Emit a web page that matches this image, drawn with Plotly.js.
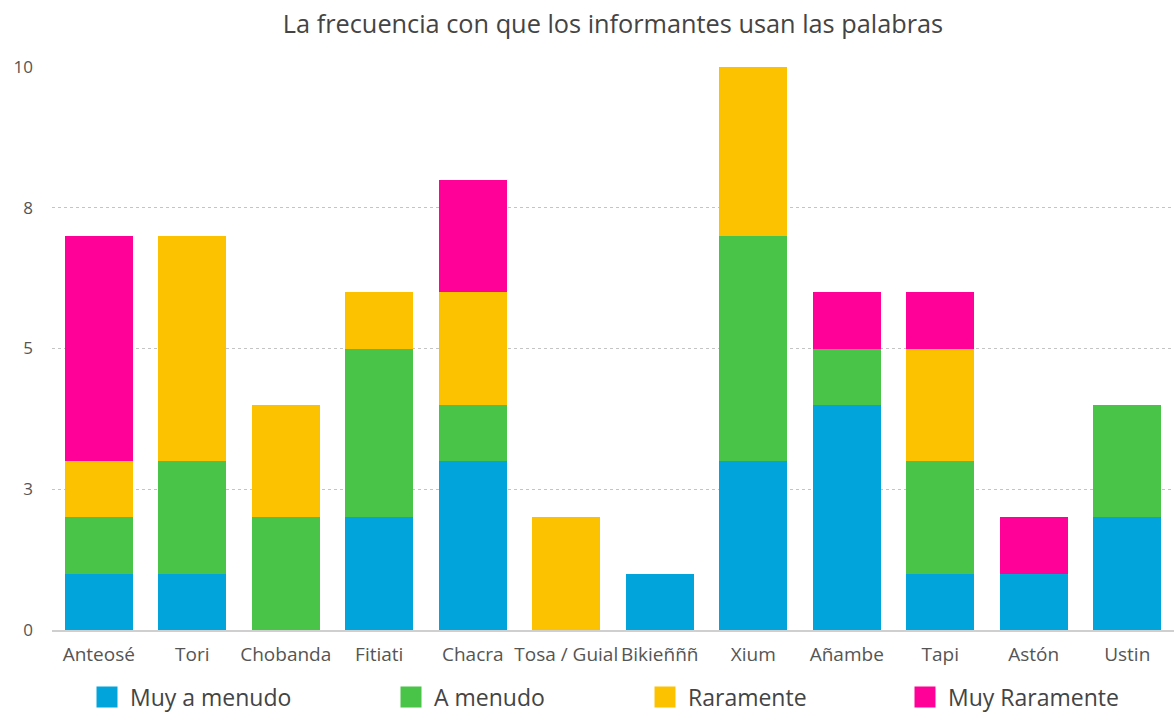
<!DOCTYPE html>
<html><head><meta charset="utf-8">
<script src="https://cdn.plot.ly/plotly-3.0.1.min.js"></script>
<style>html,body{margin:0;padding:0;background:#fff}#chart{width:1174px;height:715px}</style>
</head><body><div id="chart"></div>
<script>
const categories = ["Anteosé","Tori","Chobanda","Fitiati","Chacra","Tosa / Guial","Bikieñññ","Xium","Añambe","Tapi","Astón","Ustin"];
const muyAMenudo   = [1,1,0,2,3,0,1,3,4,1,1,2];
const aMenudo      = [1,2,2,3,1,0,0,4,1,2,0,2];
const raramente    = [1,4,2,1,2,2,0,3,0,2,0,0];
const muyRaramente = [4,0,0,0,2,0,0,0,1,1,1,0];
const seriesNames  = ["Muy a menudo","A menudo","Raramente","Muy Raramente"];
const seriesColors = ["#02A4DC","#49C449","#FCC200","#FF0098"];
const yTickVals = [0,2.5,5,7.5,10];
const yTickText = ["0","3","5","8","10"];

const values = [muyAMenudo, aMenudo, raramente, muyRaramente];
const legendIds = ["legend","legend2","legend3","legend4"];
const traces = [];
values.forEach((v,i)=>{
  traces.push({type:"bar", x:categories, y:v, name:seriesNames[i],
    marker:{color:seriesColors[i], line:{width:0}}, showlegend:false, hoverinfo:"x+y+name"});
});
values.forEach((v,i)=>{
  traces.push({type:"scatter", mode:"markers", x:[null], y:[null], name:seriesNames[i],
    marker:{symbol:"square", size:16, color:seriesColors[i], line:{width:8,color:seriesColors[i]}},
    showlegend:true, legend:legendIds[i]});
});

const legendX = [84, 388, 642, 902];
const layout = {
  width:1174, height:715,
  margin:{l:52, r:0, t:67, b:85, autoexpand:false},
  paper_bgcolor:"#fff", plot_bgcolor:"#fff",
  barmode:"stack", bargap:0.274,
  font:{family:"Open Sans, sans-serif", color:"#555", size:16},
  title:{text:"La frecuencia con que los informantes usan las palabras", x:0.5, xref:"paper",
    y:1-24/715, yref:"container", yanchor:"middle", font:{size:25.3, color:"#444"}},
  xaxis:{type:"category", showgrid:false, showline:true, linecolor:"#cfcfcf", linewidth:2,
    ticks:"", ticklabelstandoff:6, tickfont:{size:19, color:"#555"}, fixedrange:true},
  yaxis:{range:[0,10], tickvals:yTickVals, ticktext:yTickText, showgrid:true, gridcolor:"#c4c4c4",
    griddash:"dot", gridwidth:1, zeroline:false, ticks:"", ticklabelstandoff:18, tickfont:{size:17, color:"#555"}, fixedrange:true}
};
legendIds.forEach((id,i)=>{
  layout[id] = {x:(legendX[i]-52)/1122, xref:"paper", xanchor:"left", y:(630-697)/563, yanchor:"middle",
    orientation:"h", bgcolor:"rgba(0,0,0,0)", font:{size:23, color:"#444"}, itemwidth:36};
});
Plotly.newPlot("chart", traces, layout, {displayModeBar:false, staticPlot:true});
</script></body></html>
